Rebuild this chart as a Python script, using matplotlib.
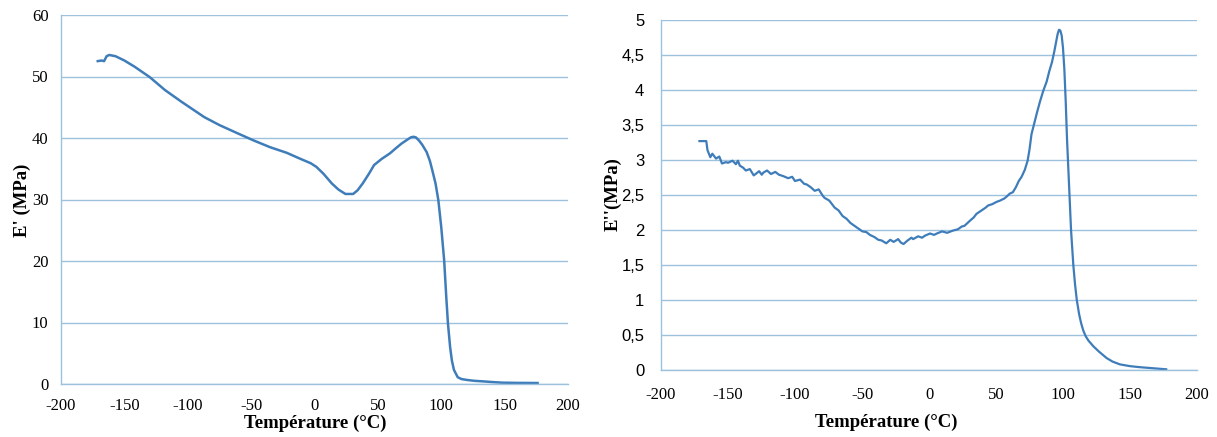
import matplotlib
matplotlib.use("Agg")
import matplotlib.pyplot as plt
from matplotlib.ticker import FuncFormatter

plt.rcParams["axes.unicode_minus"] = False

# E' (storage modulus) data
t1 = [-171, -168, -166, -164, -162, -157, -150, -142, -130, -118, -105, -87, -75, -60, -48, -35,
      -22, -11, -3, 1.5, 7, 13.7, 19, 24.4, 30.5, 34, 38, 43, 47, 53, 59.5, 64, 68.7, 73, 76, 78,
      80, 82.4, 85, 88.5, 91, 93, 95.5, 97.7, 100, 102.3, 104, 105.3, 107, 108.4, 110, 113, 116,
      120.6, 126, 132.8, 140, 148, 160, 176]
e1 = [52.5, 52.6, 52.5, 53.3, 53.5, 53.3, 52.6, 51.6, 49.9, 47.8, 45.9, 43.4, 42.1, 40.7, 39.6, 38.5,
      37.6, 36.6, 35.9, 35.3, 34.2, 32.6, 31.6, 30.9, 30.9, 31.5, 32.6, 34.2, 35.6, 36.6, 37.5, 38.3,
      39.1, 39.7, 40.1, 40.2, 40.1, 39.6, 38.9, 37.7, 36.3, 34.7, 32.6, 29.9, 25.5, 20.1, 14.0, 9.8,
      6.0, 3.8, 2.3, 1.1, 0.8, 0.65, 0.52, 0.43, 0.32, 0.22, 0.18, 0.16]

# E'' (loss modulus) data
t2 = [-171.3, -166.2, -165.3, -163.2, -161.7, -158.9, -156.5, -154.5, -151.5, -150.0, -146.6,
      -144.1, -142.6, -141.2, -138.7, -136.7, -133.7, -130.8, -129.4, -126.8, -124.8, -123.6,
      -120.9, -117.9, -114.7, -112.0, -108.8, -105.1, -102.1, -100.0, -96.2, -93.2, -91.2, -88.2,
      -85.3, -82.3, -79.3, -78.0, -74.4, -70.4, -67.5, -64.5, -61.5, -58.6, -55.6, -52.6, -49.7,
      -46.7, -44.1, -40.8, -37.8, -35.3, -31.9, -28.9, -26.4, -23.0, -21.0, -19.0, -16.0, -13.1,
      -11.8, -8.1, -5.2, -2.9, 0.8, 3.7, 5.9, 9.7, 13.6, 17.6, 21.5, 24.5, 26.5, 30.4, 33.4, 35.4,
      39.3, 42.3, 44.1, 47.3, 50.2, 53.0, 56.2, 58.1, 60.3, 62.6, 64.8, 67.0, 69.1, 71.5, 73.6,
      75.0, 76.5, 78.9, 80.9, 82.9, 85.3, 87.8, 89.8, 91.8, 93.5, 95, 96, 97, 98, 99, 100, 101, 102,
      103, 103.8, 105, 106, 107.7, 109, 110.3, 112, 113.5, 115.2, 117, 119, 122.6, 127, 132.6, 137,
      142.5, 150, 157.5, 167, 177]
e2 = [3.27, 3.27, 3.14, 3.04, 3.09, 3.02, 3.05, 2.95, 2.97, 2.96, 2.99, 2.94, 2.99, 2.92, 2.89, 2.85,
      2.87, 2.78, 2.80, 2.84, 2.79, 2.82, 2.85, 2.80, 2.83, 2.79, 2.77, 2.74, 2.76, 2.70, 2.72, 2.66,
      2.65, 2.61, 2.56, 2.58, 2.49, 2.46, 2.42, 2.32, 2.28, 2.20, 2.16, 2.10, 2.06, 2.02, 1.98, 1.97,
      1.93, 1.90, 1.86, 1.85, 1.81, 1.86, 1.83, 1.87, 1.82, 1.80, 1.85, 1.89, 1.87, 1.91, 1.89, 1.92,
      1.95, 1.93, 1.95, 1.98, 1.96, 1.99, 2.01, 2.05, 2.06, 2.13, 2.18, 2.23, 2.28, 2.32, 2.35, 2.37,
      2.40, 2.42, 2.45, 2.48, 2.52, 2.54, 2.61, 2.70, 2.76, 2.86, 2.99, 3.15, 3.37, 3.55, 3.70, 3.84,
      3.99, 4.12, 4.27, 4.40, 4.55, 4.70, 4.80, 4.86, 4.85, 4.78, 4.60, 4.30, 3.85, 3.30, 2.95, 2.40,
      2.00, 1.50, 1.22, 1.00, 0.80, 0.67, 0.56, 0.48, 0.42, 0.34, 0.26, 0.17, 0.12,
      0.08, 0.055, 0.04, 0.025, 0.01]

x_ticks = [-200, -150, -100, -50, 0, 50, 100, 150, 200]
y1_ticks = [0, 10, 20, 30, 40, 50, 60]
y2_ticks = [0, 0.5, 1, 1.5, 2, 2.5, 3, 3.5, 4, 4.5, 5]

line_color = "#3F7DBA"
grid_color = "#9CC2DE"
serif = ["Liberation Serif", "DejaVu Serif"]
sans = ["Liberation Sans", "DejaVu Sans"]

W, H = 1217, 437
fig = plt.figure(figsize=(W / 100, H / 100), dpi=100)
ax1 = fig.add_axes([61 / W, 1 - 384 / H, (568 - 61) / W, (384 - 15) / H])
ax2 = fig.add_axes([661 / W, 1 - 370 / H, (1197 - 661) / W, (370 - 20) / H])


def style(ax, yticks, ylim, ytick_family, ypad, xpad, fmt=None):
    ax.set_xlim(-200, 200)
    ax.set_ylim(*ylim)
    ax.set_xticks(x_ticks)
    ax.set_yticks(yticks)
    for s in ["top", "right"]:
        ax.spines[s].set_visible(False)
    for s in ["left", "bottom"]:
        ax.spines[s].set_color(grid_color)
        ax.spines[s].set_linewidth(1.0)
    ax.yaxis.grid(True, color=grid_color, linewidth=1.0)
    ax.set_axisbelow(True)
    ax.tick_params(axis="y", length=0, pad=ypad)
    ax.tick_params(axis="x", length=0, pad=xpad)
    if fmt is not None:
        ax.yaxis.set_major_formatter(fmt)
    for lab in ax.get_xticklabels():
        lab.set_fontfamily(serif)
        lab.set_fontsize(12)
    for lab in ax.get_yticklabels():
        lab.set_fontfamily(ytick_family)
        lab.set_fontsize(12)


ax1.plot(t1, e1, color=line_color, linewidth=1.8)
ax2.plot(t2, e2, color=line_color, linewidth=1.6)

style(ax1, y1_ticks, (0, 60), serif, 9, 10)
comma = FuncFormatter(lambda v, p: ("%g" % v).replace(".", ","))
style(ax2, y2_ticks, (0, 5), sans, 12, 12, comma)

label_kw = dict(fontfamily=serif, fontweight="bold", fontsize=13.5,
                ha="center", va="center")
fig.text(315 / W, 1 - 423 / H, "Température (°C)", **label_kw)
fig.text(886 / W, 1 - 422 / H, "Température (°C)", **label_kw)
fig.text(22 / W, 1 - 200 / H, "E' (MPa)", rotation=90, **label_kw)
fig.text(613 / W, 1 - 194 / H, "E''(MPa)", rotation=90, **label_kw)

fig.savefig("out.png", dpi=100)
